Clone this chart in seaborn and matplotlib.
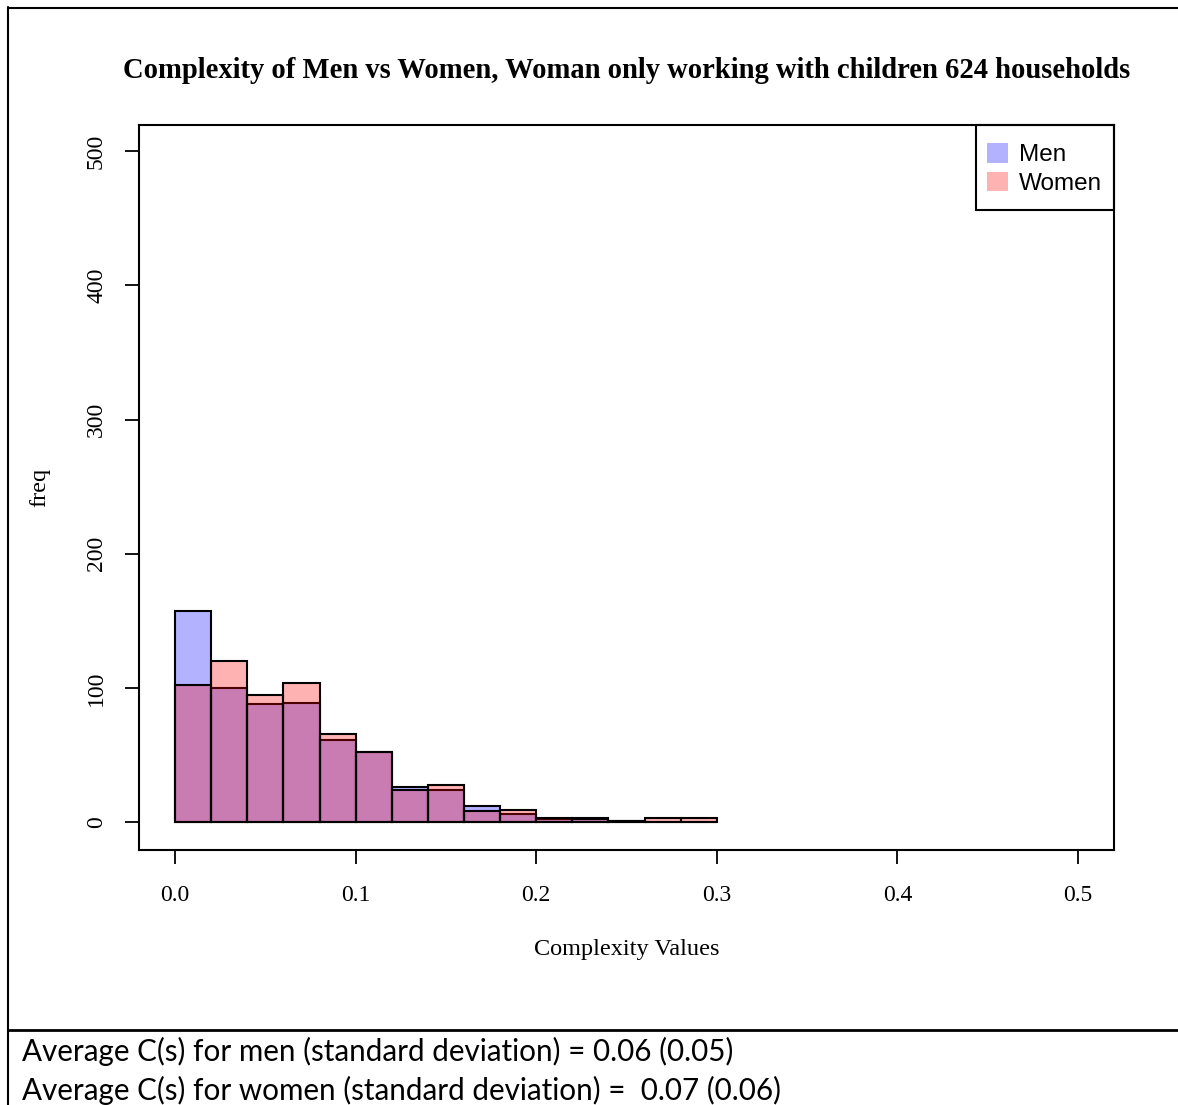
import numpy as np
import pandas as pd
import matplotlib
matplotlib.use("Agg")
import matplotlib.pyplot as plt
from matplotlib.lines import Line2D
from matplotlib.patches import Patch, Rectangle
import seaborn as sns

# ---- data ----
bin_edges = [0.00, 0.02, 0.04, 0.06, 0.08, 0.10, 0.12, 0.14, 0.16, 0.18,
             0.20, 0.22, 0.24, 0.26, 0.28, 0.30]
men_counts = [157, 100, 88, 89, 61, 52, 26, 24, 12, 6, 2, 3, 1, 0, 0]
women_counts = [102, 120, 95, 104, 66, 52, 24, 28, 8, 9, 3, 2, 1, 3, 3]
x_ticks = [0.0, 0.1, 0.2, 0.3, 0.4, 0.5]
x_tick_labels = ["0.0", "0.1", "0.2", "0.3", "0.4", "0.5"]
y_ticks = [0, 100, 200, 300, 400, 500]
series_names = ["Men", "Women"]
title = "Complexity of Men vs Women, Woman only working with children 624 households"
x_label = "Complexity Values"
y_label = "freq"
notes = ["Average C(s) for men (standard deviation) = 0.06 (0.05)",
         "Average C(s) for women (standard deviation) =  0.07 (0.06)"]

centers = [(bin_edges[i] + bin_edges[i + 1]) / 2 for i in range(len(bin_edges) - 1)]
df = pd.DataFrame({"center": centers, "Men": men_counts, "Women": women_counts})

# ---- figure ----
W, H = 1178, 1105
sns.set_style("white")
plt.rcParams["font.family"] = ["Liberation Serif", "DejaVu Serif"]
plt.rcParams["text.color"] = "black"
plt.rcParams["axes.labelcolor"] = "black"
plt.rcParams["xtick.color"] = "black"
plt.rcParams["ytick.color"] = "black"
fig = plt.figure(figsize=(W / 100, H / 100), dpi=100)

L, R, T, B = 139, 1114, 125, 850
ax = fig.add_axes([L / W, 1 - B / H, (R - L) / W, (B - T) / H])

men_color = (0, 0, 1, 0.3)
women_color = (1, 0, 0, 0.3)
sns.histplot(data=df, x="center", weights="Men", bins=bin_edges, ax=ax,
             facecolor=men_color, edgecolor="black", linewidth=1.5)
sns.histplot(data=df, x="center", weights="Women", bins=bin_edges, ax=ax,
             facecolor=women_color, edgecolor="black", linewidth=1.5)

ax.set_xlim(-0.02, 0.52)
ax.set_ylim(-20.8, 519.6)
ax.set_xticks(x_ticks)
ax.set_xticklabels(x_tick_labels)
ax.set_yticks(y_ticks)
ax.set_yticklabels([str(v) for v in y_ticks], rotation=90, va="center")
ax.tick_params(axis="both", direction="out", length=10, width=1.3,
               labelsize=17, color="black", labelcolor="black",
               bottom=True, left=True, top=False, right=False)
ax.tick_params(axis="x", pad=15)
ax.tick_params(axis="y", pad=13)
for s in ax.spines.values():
    s.set_visible(True)
    s.set_color("black")
    s.set_linewidth(1.5)

ax.set_title(title, fontsize=20.6, fontweight="bold", pad=33.5, color="black")
ax.set_xlabel(x_label, fontsize=17.5, ha="center", va="center", color="black")
ax.xaxis.set_label_coords(0.5, (B - 950) / (B - T))
ax.set_ylabel(y_label, fontsize=17.5, ha="center", va="center", rotation=90,
              color="black")
ax.yaxis.set_label_coords((40 - L) / (R - L), 0.5)

# legend entries (frameless) + a frame box matching the reference
handles = [Patch(facecolor=men_color, edgecolor="none"),
           Patch(facecolor=women_color, edgecolor="none")]
leg = ax.legend(handles, series_names, loc="upper left",
                bbox_to_anchor=(975 / W, 1 - 131 / H), bbox_transform=fig.transFigure,
                borderaxespad=0, frameon=False,
                prop={"family": "Liberation Sans", "size": 17.5},
                handlelength=0.85, handleheight=0.85, handletextpad=0.45,
                labelspacing=0.22, borderpad=0.5)
for t in leg.get_texts():
    t.set_color("black")
fig.add_artist(Rectangle((976 / W, 1 - 210 / H), (1114 - 976) / W, (210 - 125) / H,
                         transform=fig.transFigure, facecolor="none",
                         edgecolor="black", linewidth=1.5, zorder=5))

# ---- outer frame lines (figure pixels) ----
def px_line(x0, y0, x1, y1, lw):
    fig.add_artist(Line2D([x0 / W, x1 / W], [1 - y0 / H, 1 - y1 / H],
                          transform=fig.transFigure, color="black", lw=lw))

px_line(7.5, 7.5, W, 7.5, 1.5)
px_line(7.5, 7, 7.5, H, 1.5)
px_line(7.5, 1029.5, W, 1029.5, 2)

# ---- notes below ----
target_w = 735 - 22
texts = []
for i, line in enumerate(notes):
    t = fig.text(22 / W, 1 - (1061 + 39 * i) / H, line, family="Lato",
                 fontsize=20, ha="left", va="baseline", color="black")
    texts.append(t)
fig.canvas.draw()
r = fig.canvas.get_renderer()
w0 = texts[0].get_window_extent(r).width
scale = target_w / w0
for t in texts:
    t.set_fontsize(20 * scale)

fig.savefig("out.png", dpi=100, facecolor="white")
